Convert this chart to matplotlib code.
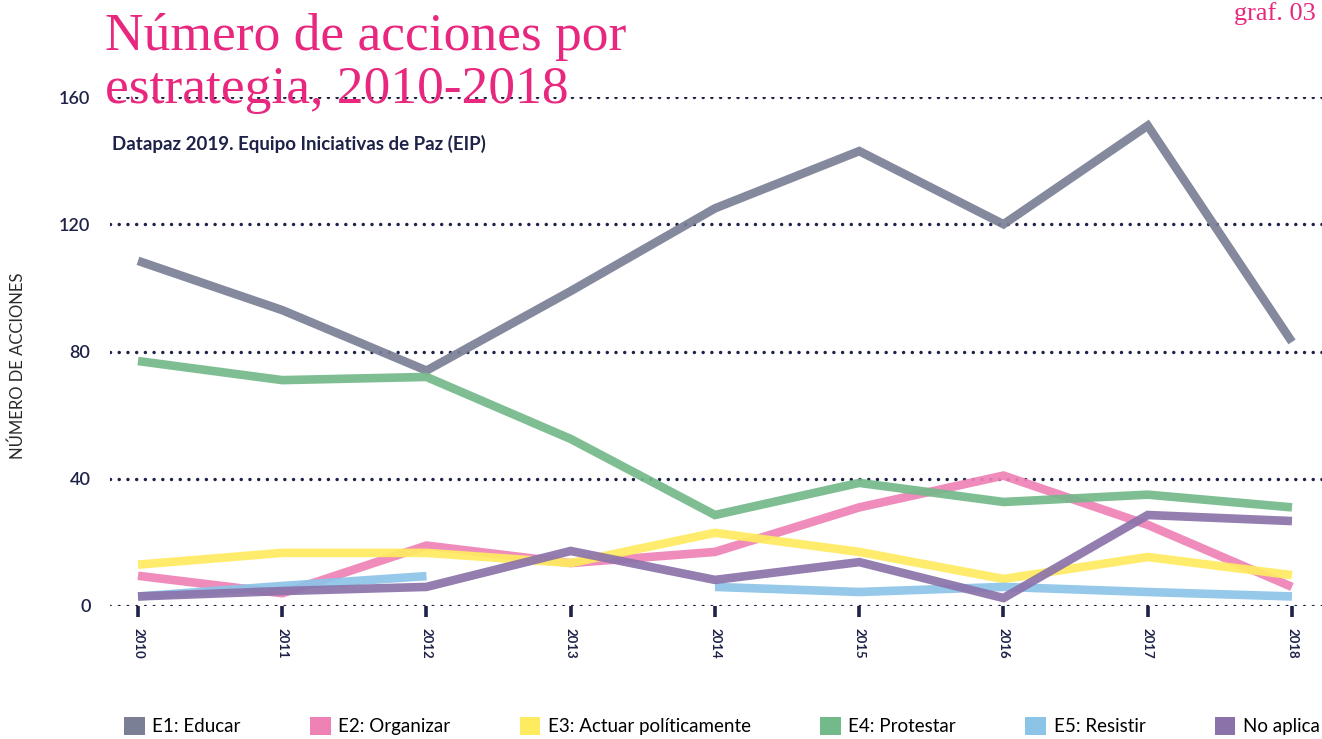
import matplotlib.pyplot as plt
import numpy as np
from matplotlib.patches import Patch

years = [2010, 2011, 2012, 2013, 2014, 2015, 2016, 2017, 2018]
e1_educar = [108.5, 93, 74, 99, 125, 143, 120, 151, 83]
e2_organizar = [9.5, 4, 19, 13.5, 17, 31, 41, 25.5, 6]
e3_actuar = [13, 16.7, 16.7, 13.5, 23, 17, 8.5, 15.4, 9.7]
e4_protestar = [77, 71, 72, 52.5, 28.6, 38.7, 32.7, 35, 31]
e5_resistir = [3, 6.3, 9.4, np.nan, 6, 4.4, 6, 4.4, 3]
no_aplica = [3, 4.7, 6, 17.3, 8.2, 13.8, 2.5, 28.6, 26.7]

names = ['E1: Educar', 'E2: Organizar', 'E3: Actuar políticamente',
         'E4: Protestar', 'E5: Resistir', 'No aplica']
series = [e1_educar, e2_organizar, e3_actuar, e4_protestar, e5_resistir, no_aplica]
colors = ['#7b7f96', '#ee82b5', '#ffeb5f', '#74b98a', '#8cc4e8', '#8b73aa']

navy = '#1e2248'
pink = '#e8287f'
sans = ['Lato', 'DejaVu Sans']

W, H = 1322, 739
fig = plt.figure(figsize=(W / 100, H / 100), dpi=100)
ax = fig.add_axes([110 / W, 1 - 606 / H, (W - 110) / W, (606 - 97) / H])

for vals, c in zip(series, colors):
    ax.plot(years, vals, color=c, lw=6.2, alpha=0.92, solid_capstyle='butt',
            solid_joinstyle='miter', clip_on=False, zorder=3)

ax.set_xlim(2010 - 28 / 144.25, 2018 + 30 / 144.25)
ax.set_ylim(0, 160)

for v in [0, 40, 80, 120, 160]:
    ax.axhline(v, color=navy, lw=2.5, ls=(0, (0.01, 2.5)), dash_capstyle='round', zorder=1)

for s in ax.spines.values():
    s.set_visible(False)

ax.set_yticks([0, 40, 80, 120, 160])
ax.set_yticklabels(['0', '40', '80', '120', '160'], fontsize=13, color=navy,
                   family=sans, fontweight='semibold')
ax.tick_params(axis='y', length=0, pad=14)
ax.set_xticks(years)
ax.set_xticklabels([str(y) for y in years], rotation=-90, fontsize=9.5, color=navy,
                   family=sans, fontweight='bold')
ax.tick_params(axis='x', length=8, width=2.6, color=navy, pad=8, direction='out')

fig.text(18 / W, 1 - 366 / H, 'NÚMERO DE ACCIONES', rotation=90, ha='center', va='center',
         fontsize=12, color='#2a2a2a', family=sans)

fig.text(105 / W, 1 - 50 / H, 'Número de acciones por', ha='left', va='baseline',
         fontsize=38.5, color=pink, family='Liberation Serif', zorder=10)
fig.text(105 / W, 1 - 103 / H, 'estrategia, 2010-2018', ha='left', va='baseline',
         fontsize=38.5, color=pink, family='Liberation Serif', zorder=10)
fig.text(1316 / W, 1 - 20 / H, 'graf. 03', ha='right', va='baseline', fontsize=19,
         color=pink, family='Liberation Serif')
fig.text(112 / W, 1 - 150 / H, 'Datapaz 2019. Equipo Iniciativas de Paz (EIP)', ha='left',
         va='baseline', fontsize=13.5, color=navy, family=sans, fontweight='bold')

handles = [Patch(facecolor=c, edgecolor='none') for c in colors]
fig.legend(handles, names, loc='center', bbox_to_anchor=(722 / W, 1 - 726 / H), ncol=6,
           frameon=False, handlelength=1.1, handleheight=1.1,
           handletextpad=0.4, columnspacing=3.7, prop={'family': sans, 'size': 13.5})

fig.savefig('out.png', dpi=100)
